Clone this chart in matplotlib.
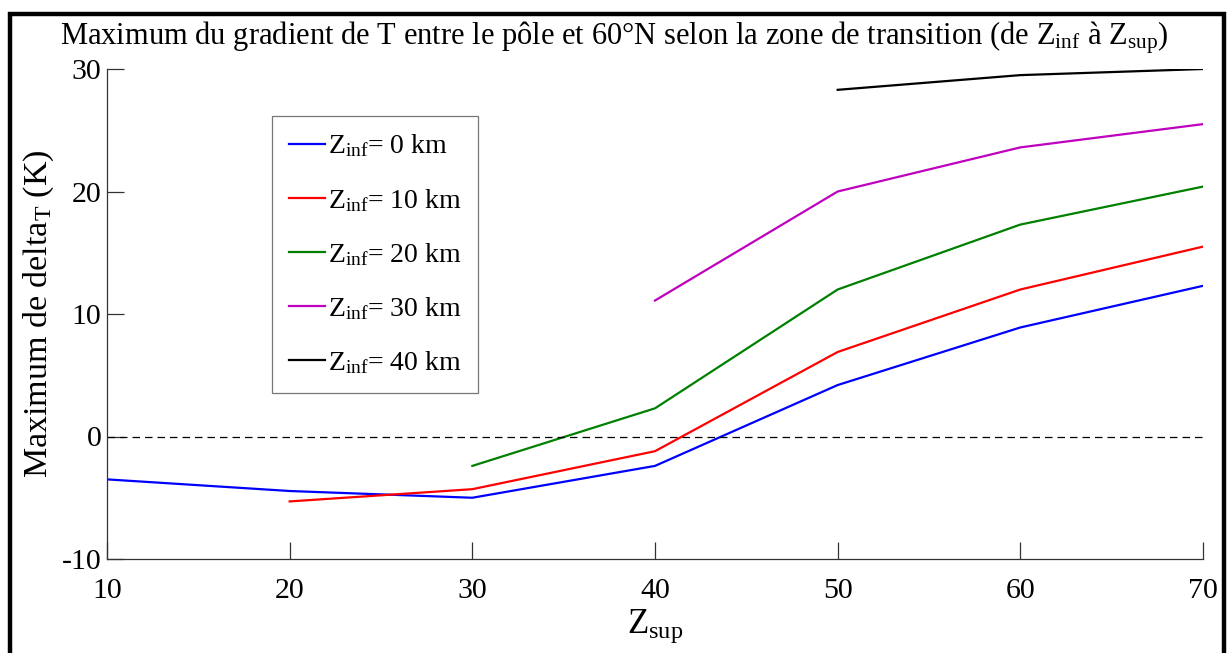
import matplotlib
matplotlib.use("Agg")
import matplotlib.pyplot as plt
from matplotlib.patches import Rectangle

plt.rcParams['font.family'] = ['Liberation Serif', 'DejaVu Serif']
plt.rcParams['mathtext.fontset'] = 'custom'
plt.rcParams['mathtext.rm'] = 'Liberation Serif'
plt.rcParams['mathtext.it'] = 'Liberation Serif:italic'
plt.rcParams['axes.unicode_minus'] = False

z_sup = [10, 20, 30, 40, 50, 60, 70]
zinf_labels = ["0", "10", "20", "30", "40"]
colors = ["#0000ff", "#ff0000", "#008000", "#bf00bf", "#000000"]
series_x = [
    [10, 20, 30, 40, 50, 60, 70],
    [20, 30, 40, 50, 60, 70],
    [30, 40, 50, 60, 70],
    [40, 50, 60, 70],
    [50, 60, 70],
]
series_y = [
    [-3.5, -4.45, -5.0, -2.4, 4.2, 8.9, 12.3],
    [-5.3, -4.3, -1.2, 6.9, 12.0, 15.5],
    [-2.4, 2.3, 12.0, 17.3, 20.4],
    [11.1, 20.0, 23.6, 25.5],
    [28.3, 29.5, 30.0],
]
yticks = [-10, 0, 10, 20, 30]

fig = plt.figure(figsize=(12.28, 6.53), dpi=100)
ax = fig.add_axes([107/1228, 1-559/653, (1203-107)/1228, (559-69)/653])

for xs, ys, lab, c in zip(series_x, series_y, zinf_labels, colors):
    ax.plot(xs, ys, color=c, lw=1.6, label=r"Z$_{\mathrm{inf}}$= " + lab + " km")

ax.axhline(0, color="black", lw=0.9, ls=(0, (6, 4)))

ax.set_xlim(10, 70)
ax.set_ylim(-10, 30)
ax.set_xticks(z_sup)
ax.set_yticks(yticks)
for s in ["top", "right"]:
    ax.spines[s].set_visible(False)
for s in ["left", "bottom"]:
    ax.spines[s].set_color("#333333")
    ax.spines[s].set_linewidth(0.9)
ax.tick_params(direction="in", length=12, width=0.9, color="#333333",
               labelsize=21.5, pad=4)
ax.tick_params(axis="x", pad=14)

ax.set_xlabel(r"Z$_{\mathrm{sup}}$", fontsize=25, labelpad=2)
ax.set_ylabel(r"Maximum de delta$_{\mathrm{T}}$ (K)", fontsize=24.5, labelpad=4)

fig.text(0.5, 1-38/653,
         r"Maximum du gradient de T entre le pôle et 60°N selon la zone de transition (de Z$_{\mathrm{inf}}$ à Z$_{\mathrm{sup}}$)",
         ha="center", va="center", fontsize=22)

leg = ax.legend(loc="upper left", bbox_to_anchor=((272-107)/1096, (559-116)/490),
                fontsize=20, frameon=True, fancybox=False, borderpad=0.6,
                handlelength=1.3, handletextpad=0.1, labelspacing=0.98,
                borderaxespad=0)
leg.get_frame().set_edgecolor("#555555")
leg.get_frame().set_linewidth(0.9)

fig.patches.append(Rectangle((9.5/1228, -0.1), (1223.5-9.5)/1228, 1.1 - 14/653,
                             transform=fig.transFigure, fill=False,
                             edgecolor="black", lw=3.2, zorder=10))

fig.savefig("out.png", dpi=100)
